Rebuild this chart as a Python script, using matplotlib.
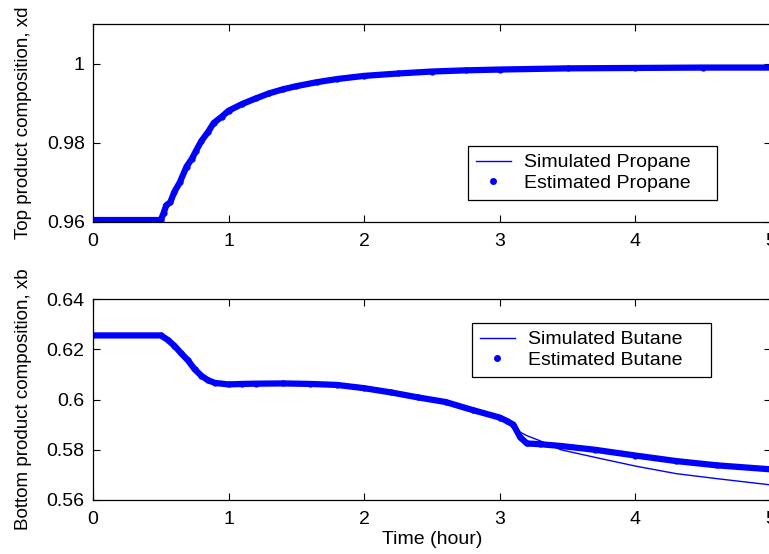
import numpy as np
import matplotlib.pyplot as plt
from matplotlib.lines import Line2D

plt.rcParams['font.family'] = ['Liberation Sans', 'DejaVu Sans']
plt.rcParams['font.size'] = 14

# top plot: propane (top product)
t_top = [0, 0.5, 0.52, 0.54, 0.57, 0.6, 0.64, 0.69, 0.73, 0.76, 0.8, 0.85, 0.89, 0.95, 1.0,
         1.1, 1.2, 1.3, 1.4, 1.5, 1.65, 1.8, 2.0, 2.25, 2.5, 2.75, 3.0, 3.5, 4.0, 4.5, 5.0]
xd_sim = [0.9605, 0.9605, 0.9618, 0.9636, 0.9655, 0.9672, 0.9702, 0.9738, 0.9762, 0.9778,
          0.9803, 0.9828, 0.9848, 0.9866, 0.9880, 0.9898, 0.9912, 0.9925, 0.9935, 0.9943,
          0.9953, 0.9961, 0.9969, 0.9975, 0.9980, 0.9983, 0.9985, 0.9988, 0.9989, 0.9990, 0.9990]
xd_est = [0.9605, 0.9605, 0.9622, 0.9642, 0.9650, 0.9676, 0.9700, 0.9740, 0.9760, 0.9780,
          0.9805, 0.9828, 0.9850, 0.9866, 0.9881, 0.9898, 0.9912, 0.9925, 0.9935, 0.9943,
          0.9953, 0.9961, 0.9969, 0.9975, 0.9980, 0.9983, 0.9985, 0.9988, 0.9989, 0.9990, 0.9990]

# bottom plot: butane (bottom product)
t_bot = [0, 0.5, 0.55, 0.6, 0.65, 0.7, 0.75, 0.8, 0.85, 0.9, 1.0, 1.1, 1.2, 1.4, 1.6, 1.8, 2.0,
         2.2, 2.4, 2.6, 2.8, 3.0, 3.05, 3.1, 3.15, 3.2, 3.3, 3.45, 3.7, 4.0, 4.3, 4.6, 5.0]
xb_sim = [0.6255, 0.6255, 0.6240, 0.6216, 0.6185, 0.6156, 0.6122, 0.6096, 0.6078, 0.6066,
          0.6053, 0.6052, 0.6058, 0.6062, 0.6062, 0.6058, 0.6045, 0.6028, 0.6008, 0.5990,
          0.5958, 0.5925, 0.5910, 0.5890, 0.5870, 0.5856, 0.5835, 0.5800, 0.5770, 0.5735,
          0.5705, 0.5685, 0.5660]
xb_est = [0.6255, 0.6255, 0.6238, 0.6214, 0.6184, 0.6156, 0.6120, 0.6094, 0.6076, 0.6066,
          0.6060, 0.6062, 0.6063, 0.6064, 0.6062, 0.6058, 0.6045, 0.6028, 0.6008, 0.5990,
          0.5958, 0.5928, 0.5915, 0.5900, 0.5850, 0.5825, 0.5822, 0.5815, 0.5800, 0.5777,
          0.5755, 0.5738, 0.5722]

blue = (0, 0, 1)

fig = plt.figure(figsize=(7.69, 5.54), dpi=100)
ax1 = fig.add_axes([93/769, 1 - 222/554, 678/769, 198/554])
ax2 = fig.add_axes([93/769, 1 - 500/554, 678/769, 201/554])


def style(ax):
    ax.tick_params(direction='in', top=True, right=True, length=5, width=0.8, pad=8)
    ax.tick_params(axis='y', pad=6)
    for s in ax.spines.values():
        s.set_linewidth(0.9)
    ax.set_xlim(0, 5)
    ax.set_xticks([0, 1, 2, 3, 4, 5])
    ax.set_xticklabels(['0', '1', '2', '3', '4', '5'])


def legend(ax, labels, x0, top, w):
    h = [Line2D([], [], color=blue, lw=1),
         Line2D([], [], color=blue, lw=0, marker='.', ms=8)]
    leg = ax.legend(h, labels, loc='upper left', bbox_to_anchor=(x0, 0, w, top),
                    mode='expand', borderaxespad=0, fancybox=False, framealpha=1,
                    edgecolor='black', handlelength=1.8, handletextpad=0.7,
                    labelspacing=0.15, borderpad=0.4)
    leg.get_frame().set_linewidth(0.9)


# top
ax1.plot(t_top, xd_sim, color=blue, lw=1)
ax1.plot(t_top, xd_est, color=blue, lw=4.5, marker='.', ms=7)
ax1.set_ylim(0.96, 1.01)
ax1.set_yticks([0.96, 0.98, 1.0])
ax1.set_yticklabels(['0.96', '0.98', '1'])
ax1.set_ylabel('Top product composition, xd', fontsize=13.5)
ax1.yaxis.set_label_coords(-0.09, 0.5)
style(ax1)
legend(ax1, ['Simulated Propane', 'Estimated Propane'], 0.5527, 0.384, 0.367)

# bottom
ax2.plot(t_bot, xb_sim, color=blue, lw=1)
ax2.plot(t_bot, xb_est, color=blue, lw=4.5, marker='.', ms=7)
ax2.set_ylim(0.56, 0.64)
ax2.set_yticks([0.56, 0.58, 0.60, 0.62, 0.64])
ax2.set_yticklabels(['0.56', '0.58', '0.6', '0.62', '0.64'])
ax2.set_ylabel('Bottom product composition, xb', fontsize=13.5)
ax2.yaxis.set_label_coords(-0.09, 0.5)
ax2.set_xlabel('Time (hour)', labelpad=2)
style(ax2)
legend(ax2, ['Simulated Butane', 'Estimated Butane'], 0.559, 0.881, 0.3525)

fig.savefig('out.png', dpi=100)
